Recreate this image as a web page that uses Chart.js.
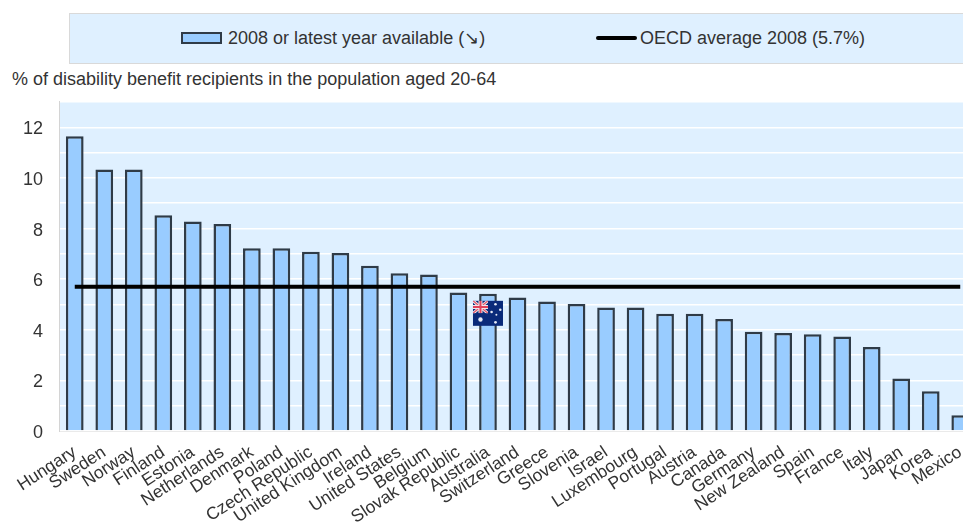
<!DOCTYPE html>
<html lang="en">
<head>
<meta charset="UTF-8">
<title>Disability benefit recipients</title>
<script src="https://cdn.jsdelivr.net/npm/chart.js"></script>
<style>
html, body { margin: 0; padding: 0; width: 963px; height: 524px; overflow: hidden; background: #fff; }
body { position: relative; font-family: "Liberation Sans", Arial, sans-serif; color: #333; }
#userChart { position: absolute; left: 0; top: 0; }
#legendBox { position: absolute; left: 69px; top: 13px; width: 910px; height: 49px; background: #dff0ff; border: 1px solid #d9d9d9; }
.txt { position: absolute; font-size: 18px; line-height: 20px; white-space: nowrap; }
#barKey { position: absolute; left: 181px; top: 32px; width: 37px; height: 8px; background: #99ccff; border: 2px solid #2f3b47; }
#lineKey { position: absolute; left: 596px; top: 36px; width: 41px; height: 3.5px; background: #000; border-radius: 2px; }
</style>
</head>
<body>
<div id="legendBox"></div>
<div id="barKey"></div>
<div class="txt" style="left:228px;top:28px">2008 or latest year available (↘)</div>
<div id="lineKey"></div>
<div class="txt" style="left:640px;top:28px">OECD average 2008 (5.7%)</div>
<div class="txt" style="left:12px;top:69px">% of disability benefit recipients in the population aged 20-64</div>
<canvas id="userChart" width="975" height="524"></canvas>

<script>
// Data
const countries = ['Hungary', 'Sweden', 'Norway', 'Finland', 'Estonia', 'Netherlands', 'Denmark', 'Poland',
  'Czech Republic', 'United Kingdom', 'Ireland', 'United States', 'Belgium', 'Slovak Republic', 'Australia',
  'Switzerland', 'Greece', 'Slovenia', 'Israel', 'Luxembourg', 'Portugal', 'Austria', 'Canada', 'Germany',
  'New Zealand', 'Spain', 'France', 'Italy', 'Japan', 'Korea', 'Mexico'];
const recipients = [11.65, 10.33, 10.33, 8.53, 8.28, 8.18, 7.22, 7.22, 7.08, 7.03, 6.53, 6.23, 6.18, 5.47, 5.42,
  5.28, 5.12, 5.02, 4.88, 4.88, 4.63, 4.63, 4.43, 3.92, 3.87, 3.82, 3.73, 3.32, 2.07, 1.57, 0.62];
const oecdAverage = countries.map(() => 5.7);
const yLabelled = [0, 2, 4, 6, 8, 10, 12];

// Panel behind the plot
const panel = {
  id: 'panel',
  beforeDraw(chart) {
    const { ctx, chartArea: a } = chart;
    ctx.save();
    ctx.fillStyle = '#dff0ff';
    ctx.fillRect(a.left, a.top, a.right - a.left, a.bottom - a.top);
    ctx.strokeStyle = '#d4d4d4';
    ctx.lineWidth = 1;
    ctx.strokeRect(a.left - 0.5, a.top - 0.5, a.right - a.left + 1, a.bottom - a.top + 1);
    ctx.restore();
  }
};

// Small Australian flag sitting on the Australia bar
const flag = {
  id: 'flag',
  afterDraw(chart) {
    const { ctx, scales } = chart;
    const cx = scales.x.getPixelForValue(countries.indexOf('Australia'));
    const cy = scales.y.getPixelForValue(4.65);
    const w = 30, h = 25, x = cx - w / 2, y = cy - h / 2;
    ctx.save();
    ctx.fillStyle = '#0a2a7a';
    ctx.fillRect(x, y, w, h);
    // union jack
    ctx.beginPath();
    ctx.rect(x, y, w / 2, h / 2);
    ctx.clip();
    ctx.strokeStyle = '#f0e6ea';
    ctx.lineWidth = 3;
    ctx.beginPath();
    ctx.moveTo(x, y); ctx.lineTo(x + w / 2, y + h / 2);
    ctx.moveTo(x + w / 2, y); ctx.lineTo(x, y + h / 2);
    ctx.stroke();
    ctx.strokeStyle = '#e0566a';
    ctx.lineWidth = 1.2;
    ctx.stroke();
    ctx.strokeStyle = '#f0e6ea';
    ctx.lineWidth = 4;
    ctx.beginPath();
    ctx.moveTo(x + w / 4, y); ctx.lineTo(x + w / 4, y + h / 2);
    ctx.moveTo(x, y + h / 4); ctx.lineTo(x + w / 2, y + h / 4);
    ctx.stroke();
    ctx.strokeStyle = '#e0405a';
    ctx.lineWidth = 2;
    ctx.stroke();
    ctx.restore();
    // stars
    ctx.save();
    ctx.fillStyle = '#e4e8f4';
    [[0.25, 0.75, 2.2], [0.75, 0.14, 1.3], [0.62, 0.45, 1.3], [0.91, 0.36, 1.3], [0.78, 0.56, 1], [0.75, 0.86, 1.4]].forEach(s => {
      ctx.beginPath();
      ctx.arc(x + s[0] * w, y + s[1] * h, s[2], 0, Math.PI * 2);
      ctx.fill();
    });
    ctx.restore();
  }
};

const ctx = document.getElementById('userChart').getContext('2d');
new Chart(ctx, {
  data: {
    labels: countries,
    datasets: [
      {
        type: 'line',
        label: 'OECD average 2008 (5.7%)',
        data: oecdAverage,
        borderColor: '#000',
        borderWidth: 4,
        pointRadius: 0,
        order: 0
      },
      {
        type: 'bar',
        label: '2008 or latest year available',
        data: recipients,
        backgroundColor: '#99ccff',
        borderColor: '#2f3b47',
        borderWidth: 2.5,
        borderSkipped: 'bottom',
        categoryPercentage: 1,
        barPercentage: 0.6,
        order: 1
      }
    ]
  },
  options: {
    responsive: false,
    animation: false,
    devicePixelRatio: 1,
    layout: { padding: { top: 102, left: 0, right: 0, bottom: 0 } },
    plugins: { legend: { display: false }, title: { display: false }, tooltip: { enabled: false } },
    scales: {
      x: {
        grid: { display: false },
        border: { display: false },
        ticks: {
          autoSkip: false,
          maxRotation: 33,
          minRotation: 33,
          padding: 3,
          color: '#333',
          font: { family: '"Liberation Sans", Arial, sans-serif', size: 17.5 }
        },
        afterFit(scale) { scale.height = 93; scale.paddingLeft = 0; scale.paddingRight = 0; }
      },
      y: {
        min: 0,
        max: 13,
        grid: { color: '#fff', lineWidth: 1.5, drawTicks: false },
        border: { display: false },
        ticks: {
          stepSize: 1,
          padding: 17,
          labelOffset: 2,
          color: '#333',
          font: { family: '"Liberation Sans", Arial, sans-serif', size: 18 },
          callback: v => yLabelled.includes(v) ? v : ''
        },
        afterFit(scale) { scale.width = 60; }
      }
    }
  },
  plugins: [panel, flag]
});
</script>
</body>
</html>
